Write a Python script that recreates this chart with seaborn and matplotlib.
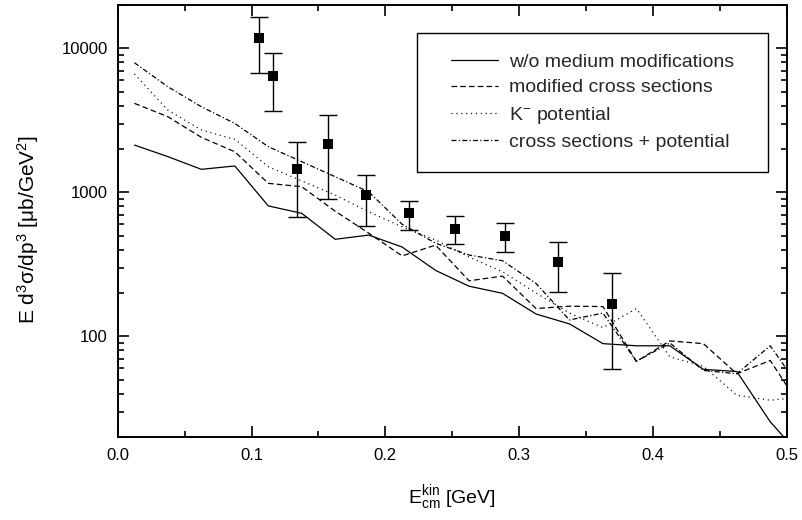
import numpy as np
import pandas as pd
import matplotlib
matplotlib.use("Agg")
import matplotlib.pyplot as plt
from matplotlib.patches import Rectangle
from matplotlib.ticker import LogLocator, NullFormatter, FixedLocator, FuncFormatter, MultipleLocator
import seaborn as sns

# ---------------- data ----------------
ekin = [0.0125, 0.0375, 0.0625, 0.0875, 0.1125, 0.1375, 0.1625, 0.1875, 0.2125, 0.2375,
        0.2625, 0.2875, 0.3125, 0.3375, 0.3625, 0.3875, 0.4125, 0.4375, 0.4625, 0.4875, 0.5125]

no_medium = [2130, 1770, 1445, 1525, 805, 715, 472, 505, 417, 287,
             223, 199, 143, 122, 89, 86, 86, 59, 57, 25.5, 14]
mod_xsec = [4150, 3350, 2410, 1914, 1155, 1094, 740, 521, 362, 430,
            243, 262, 156, 162, 161, 67, 93, 89, 55, 68, 30]
k_potential = [6640, 3720, 2710, 2335, 1507, 1200, 957, 733, 576, 467,
               355, 281, 200, 145, 115, 156, 72, 62, 39, 36, 38]
xsec_pot = [7940, 5410, 3930, 3010, 2075, 1633, 1283, 1009, 600, 443,
            367, 335, 233, 130, 145, 67, 90, 58, 55, 86, 40]

exp_x = [0.1056, 0.1163, 0.1342, 0.1574, 0.1856, 0.2175, 0.2521, 0.2895, 0.3286, 0.3692]
exp_y = [11790, 6455, 1459, 2163, 957, 714, 556, 500, 327, 167]
exp_hi = [16570, 9230, 2235, 3430, 1324, 875, 684, 610, 450, 277]
exp_lo = [6700, 3690, 676, 893, 583, 547, 438, 385, 204, 59.3]

labels = ["w/o medium modifications", "modified cross sections",
          r"K$^{\mathsf{-}}$ potential", "cross sections + potential"]

# ---------------- style ----------------
sns.set_theme(style="ticks")
plt.rcParams["font.family"] = ["Liberation Sans", "DejaVu Sans"]
plt.rcParams["mathtext.fontset"] = "custom"
plt.rcParams["mathtext.rm"] = "Liberation Sans"
plt.rcParams["mathtext.it"] = "Liberation Sans:italic"
plt.rcParams["mathtext.sf"] = "Liberation Sans"
plt.rcParams["mathtext.bf"] = "Liberation Sans:bold"

fig = plt.figure(figsize=(8.02, 5.20), dpi=100)
ax = fig.add_axes([117.7 / 802, 1 - 437 / 520, (787 - 117.7) / 802, (437 - 5) / 520])

series = [no_medium, mod_xsec, k_potential, xsec_pot]
dash_styles = [None, (4.5, 2.5), (0.9, 3.0), (4.0, 1.8, 1.0, 1.8)]
for vals, lab, ds in zip(series, labels, dash_styles):
    df = pd.DataFrame({"E": ekin, "val": vals})
    sns.lineplot(data=df, x="E", y="val", ax=ax, color="black", lw=0.9,
                 sort=False, estimator=None, label=lab)
    line = ax.lines[-1]
    if ds is not None:
        line.set_dashes(ds)

# experimental points
yerr = np.array([np.array(exp_y) - np.array(exp_lo), np.array(exp_hi) - np.array(exp_y)])
ax.errorbar(exp_x, exp_y, yerr=yerr, fmt="none", ecolor="black", elinewidth=1.0,
            capsize=6.5, capthick=1.0, zorder=3)
sns.scatterplot(x=exp_x, y=exp_y, ax=ax, marker="s", s=62, color="black",
                edgecolor="black", linewidth=0, zorder=4, legend=False)

ax.set_yscale("log")
ax.set_xlim(0, 0.5)
ax.set_ylim(20, 20000)

ax.xaxis.set_major_locator(MultipleLocator(0.1))
ax.xaxis.set_minor_locator(MultipleLocator(0.05))
ax.xaxis.set_major_formatter(FuncFormatter(lambda v, p: f"{v:.1f}"))
ax.yaxis.set_major_locator(FixedLocator([100, 1000, 10000]))
ax.yaxis.set_minor_locator(LogLocator(base=10, subs=np.arange(2, 10)))
ax.yaxis.set_major_formatter(FuncFormatter(lambda v, p: f"{int(round(v))}"))
ax.yaxis.set_minor_formatter(NullFormatter())

ax.tick_params(which="both", direction="in", top=True, right=True, color="black",
               width=1.2, labelsize=12, labelcolor="black")
ax.tick_params(which="major", length=8)
ax.tick_params(which="minor", length=4.5)
ax.tick_params(axis="x", pad=8)
ax.tick_params(axis="y", pad=7)
for sp in ax.spines.values():
    sp.set_linewidth(1.4)
    sp.set_color("black")
    sp.set_visible(True)

ax.set_xlabel(r"E$_{\mathrm{cm}}^{\mathrm{kin}}$ [GeV]", fontsize=14, color="black")
ax.xaxis.set_label_coords(0.5, (437 - 483) / 432)
ax.set_ylabel(r"E d$^{3}$σ/dp$^{3}$ [μb/GeV$^{2}$]", fontsize=15, color="black")
ax.yaxis.set_label_coords((41 - 117.7) / 669.3, (437 - 230) / 432)

# legend frame as a plain rectangle
ax.add_patch(Rectangle((0.447, 0.613), 0.972 - 0.447, 0.935 - 0.613,
                       transform=ax.transAxes, facecolor="white", edgecolor="black",
                       linewidth=1.0, zorder=5))
leg = ax.legend(loc="upper left", bbox_to_anchor=(0.498, 0.889), fontsize=14,
                frameon=False, handlelength=2.4, handletextpad=0.57,
                labelspacing=0.42, borderpad=0, borderaxespad=0)
leg.set_zorder(6)

fig.savefig("out.png", dpi=100)
